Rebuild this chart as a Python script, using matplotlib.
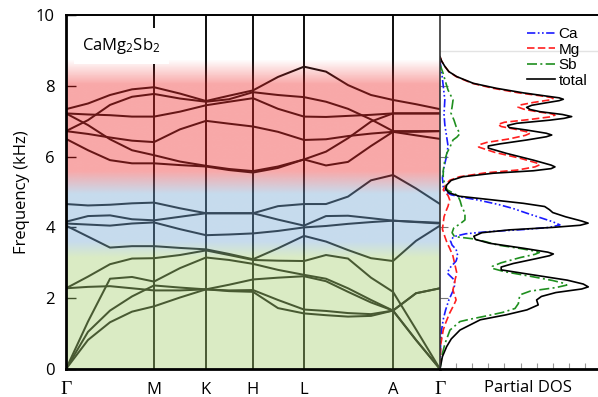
import numpy as np
import matplotlib.pyplot as plt

plt.rcParams['font.family'] = ['Open Sans', 'DejaVu Sans']
plt.rcParams['mathtext.default'] = 'regular'

# path coordinate of the sampled k points and the high-symmetry points
kpath = [0, 0.22, 0.44, 0.66, 0.88, 1.14, 1.40, 1.63, 1.87, 2.12, 2.38,
         2.60, 2.82, 3.05, 3.27, 3.50, 3.74]
sym_k = [0, 0.88, 1.40, 1.87, 2.38, 3.27, 3.74]
sym_labels = ['Γ', 'M', 'K', 'H', 'L', 'A', 'Γ']

# phonon branches (kHz)
red1 = [7.34, 7.50, 7.74, 7.90, 7.96, 7.78, 7.57, 7.72, 7.87, 8.25, 8.54, 8.40, 8.02, 7.74, 7.60, 7.48, 7.34]
red2 = [6.72, 7.03, 7.46, 7.69, 7.77, 7.64, 7.55, 7.62, 7.82, 7.74, 7.68, 7.55, 7.35, 7.05, 6.72, 6.72, 6.72]
red3 = [7.22, 7.19, 7.17, 7.13, 7.13, 7.27, 7.45, 7.55, 7.65, 7.35, 7.13, 7.12, 7.15, 7.18, 7.22, 7.22, 7.22]
red4 = [7.22, 6.89, 6.49, 6.18, 6.04, 5.86, 5.74, 5.65, 5.59, 5.72, 5.92, 6.14, 6.52, 6.99, 7.22, 7.22, 7.22]
red5 = [6.72, 6.64, 6.54, 6.45, 6.41, 6.77, 7.01, 6.93, 6.85, 6.70, 6.47, 6.49, 6.58, 6.65, 6.70, 6.70, 6.72]
red6 = [6.50, 6.18, 5.90, 5.81, 5.81, 5.76, 5.72, 5.62, 5.55, 5.68, 5.92, 5.75, 5.85, 6.30, 6.70, 6.60, 6.50]
blue1 = [4.66, 4.62, 4.64, 4.68, 4.70, 4.54, 4.40, 4.40, 4.40, 4.60, 4.66, 4.66, 4.87, 5.33, 5.48, 5.10, 4.66]
blue2 = [4.16, 4.32, 4.34, 4.23, 4.20, 4.30, 4.40, 4.40, 4.40, 4.22, 4.05, 4.32, 4.33, 4.26, 4.19, 4.16, 4.13]
blue3 = [4.11, 4.08, 4.05, 4.11, 4.14, 3.95, 3.78, 3.80, 3.83, 3.90, 4.00, 4.04, 4.10, 4.15, 4.19, 4.15, 4.11]
blue4 = [4.05, 3.74, 3.43, 3.47, 3.47, 3.42, 3.38, 3.25, 3.10, 3.41, 3.76, 3.60, 3.36, 3.13, 3.05, 3.62, 4.05]
green1 = [2.28, 2.61, 2.96, 3.12, 3.13, 3.22, 3.35, 3.22, 3.08, 3.06, 3.05, 3.22, 3.12, 2.58, 2.18, 1.12, 0.0]
green2 = [2.28, 2.32, 2.34, 2.28, 2.22, 2.22, 2.25, 2.22, 2.23, 1.95, 1.68, 1.64, 1.58, 1.55, 1.65, 0.82, 0.0]
acou1 = [0.0, 1.34, 2.55, 2.60, 2.47, 2.85, 3.15, 3.08, 2.97, 2.80, 2.66, 2.55, 2.28, 1.95, 1.65, 2.14, 2.28]
acou2 = [0.0, 1.05, 1.65, 2.05, 2.36, 2.30, 2.25, 2.38, 2.53, 2.58, 2.62, 2.48, 2.18, 1.88, 1.65, 2.14, 2.28]
acou3 = [0.0, 0.82, 1.32, 1.62, 1.77, 2.02, 2.25, 2.20, 2.18, 1.72, 1.57, 1.52, 1.48, 1.50, 1.65, 0.82, 0.0]

branches = [red1, red2, red3, red4, red5, red6, blue1, blue2, blue3, blue4,
            green1, green2, acou1, acou2, acou3]

# partial DOS (arb. units) against frequency
total_freq = [8.82, 8.70, 8.55, 8.40, 8.26, 8.07, 7.93, 7.80, 7.71, 7.66, 7.62, 7.58, 7.52, 7.45, 7.39,
              7.33, 7.27, 7.19, 7.13, 7.08, 7.03, 6.94, 6.88, 6.82, 6.75, 6.66, 6.61, 6.56, 6.47, 6.36,
              6.30, 6.24, 6.09, 5.90, 5.76, 5.71, 5.66, 5.60, 5.53, 5.43, 5.33, 5.20, 5.08, 4.98, 4.88,
              4.78, 4.68, 4.59, 4.50, 4.42, 4.30, 4.18, 4.12, 4.06, 4.00, 3.93, 3.85, 3.75, 3.66, 3.55,
              3.41, 3.30, 3.25, 3.20, 3.12, 2.98, 2.88, 2.80, 2.70, 2.51, 2.40, 2.32, 2.26, 2.16, 2.05,
              1.95, 1.81, 1.67, 1.53, 1.39, 1.10, 0.85, 0.63, 0.35, 0.0]
total_dos = [0.0, 0.10, 0.30, 0.55, 1.04, 2.07, 3.5, 5.18, 6.6, 7.4, 7.66, 7.4, 6.6, 5.7, 5.38,
             5.6, 6.2, 7.6, 8.18, 7.7, 6.83, 4.76, 4.2, 4.3, 5.38, 6.6, 6.94, 6.6, 5.4, 3.73,
             3.0, 3.0, 4.14, 5.8, 6.9, 7.14, 6.9, 5.8, 3.3, 1.4, 0.7, 0.42, 0.35, 0.55, 1.2,
             3.2, 5.18, 6.5, 6.8, 7.0, 7.8, 8.8, 9.2, 8.7, 7.0, 4.3, 2.6, 2.1, 2.2, 3.1,
             5.2, 6.7, 7.04, 6.8, 6.0, 4.55, 3.8, 3.8, 5.2, 7.9, 8.9, 9.21, 8.8, 7.2, 6.3,
             6.0, 6.1, 5.4, 4.1, 2.5, 1.24, 0.7, 0.41, 0.15, 0.0]

mg_freq = [8.82, 8.70, 8.55, 8.40, 8.26, 8.07, 7.93, 7.80, 7.72, 7.67, 7.64, 7.60, 7.53, 7.46, 7.40,
           7.34, 7.27, 7.21, 7.17, 7.12, 7.05, 6.97, 6.91, 6.85, 6.77, 6.70, 6.66, 6.60, 6.50, 6.40,
           6.33, 6.27, 6.12, 5.95, 5.82, 5.77, 5.71, 5.62, 5.54, 5.43, 5.33, 5.20, 5.06, 4.90, 4.78,
           4.60, 4.49, 4.30, 4.12, 3.95, 3.74, 3.55, 3.41, 3.20, 3.00, 2.80, 2.70, 2.55, 2.42, 2.23,
           2.10, 1.95, 1.80, 1.58, 1.30, 1.10, 0.70, 0.0]
mg_dos = [0.0, 0.10, 0.30, 0.55, 1.0, 2.0, 3.3, 4.9, 6.2, 6.9, 7.02, 6.8, 5.8, 5.0, 4.84,
          5.2, 6.0, 6.9, 7.14, 6.8, 5.6, 4.0, 3.6, 3.8, 4.7, 5.4, 5.6, 5.3, 4.3, 2.9,
          2.4, 2.4, 3.4, 5.0, 6.0, 6.2, 5.9, 4.8, 2.8, 1.2, 0.6, 0.35, 0.2, 0.5, 0.6,
          0.5, 0.4, 0.25, 0.2, 0.15, 0.3, 0.45, 0.6, 0.8, 0.9, 1.0, 1.05, 0.95, 0.9, 0.8,
          0.9, 1.0, 0.85, 0.6, 0.35, 0.2, 0.05, 0.0]

ca_freq = [8.70, 8.40, 8.00, 7.60, 7.20, 6.90, 6.60, 6.30, 6.00, 5.70, 5.40, 5.15, 5.00, 4.92, 4.85,
           4.77, 4.65, 4.54, 4.40, 4.25, 4.16, 4.07, 4.00, 3.94, 3.88, 3.82, 3.74, 3.62, 3.50, 3.38,
           3.20, 3.05, 2.85, 2.71, 2.51, 2.35, 2.20, 1.95, 1.67, 1.40, 1.10, 0.60, 0.0]
ca_dos = [0.0, 0.1, 0.2, 0.3, 0.25, 0.3, 0.4, 0.5, 0.4, 0.25, 0.15, 0.2, 0.35, 0.7, 1.4,
          2.4, 3.6, 4.5, 5.4, 6.4, 7.0, 7.45, 6.8, 5.2, 3.0, 1.6, 0.85, 0.65, 0.75, 1.0,
          1.1, 1.0, 0.6, 0.45, 0.9, 0.9, 0.8, 0.55, 0.35, 0.2, 0.1, 0.03, 0.0]

sb_freq = [8.60, 8.36, 8.10, 7.88, 7.60, 7.40, 7.23, 7.03, 6.85, 6.72, 6.65, 6.55, 6.47, 6.25, 6.10,
           5.90, 5.60, 5.40, 5.20, 5.06, 4.90, 4.75, 4.59, 4.40, 4.21, 4.12, 3.98, 3.85, 3.74, 3.68,
           3.60, 3.50, 3.41, 3.33, 3.29, 3.24, 3.15, 3.00, 2.90, 2.85, 2.75, 2.62, 2.50, 2.42, 2.37,
           2.30, 2.20, 2.10, 1.98, 1.85, 1.71, 1.60, 1.52, 1.40, 1.34, 1.10, 0.72, 0.35, 0.0]
sb_dos = [0.0, 0.19, 0.35, 0.5, 0.81, 0.75, 0.68, 0.87, 1.0, 1.15, 1.24, 1.05, 0.81, 0.6, 0.43,
          0.3, 0.2, 0.2, 0.3, 0.45, 1.1, 1.25, 1.35, 1.55, 1.55, 1.3, 0.85, 0.75, 0.9, 2.0,
          2.8, 3.6, 4.9, 5.9, 6.17, 5.9, 5.0, 3.8, 3.25, 3.2, 4.0, 5.6, 7.0, 7.7, 7.87,
          7.2, 5.6, 5.0, 4.9, 4.87, 4.66, 3.9, 3.1, 1.8, 1.24, 0.62, 0.31, 0.1, 0.0]

fig = plt.figure(figsize=(5.98, 3.97), dpi=100)
ax = fig.add_axes([66 / 598, 28 / 397, 374 / 598, 354 / 397])
dos_ax = fig.add_axes([440 / 598, 28 / 397, 158 / 598, 354 / 397])

# band structure
for branch in branches:
    ax.plot(kpath, branch, color='#0d0d0d', lw=1.45, zorder=2)
for k in sym_k[1:-1]:
    ax.axvline(k, color='#0d0d0d', lw=1.4, zorder=2)

# translucent colour bands laid over the curves
stop_f = [0, 3.15, 3.6, 4.95, 5.6, 8.05, 8.75, 10]
stop_rgb = [(0.64, 0.81, 0.425), (0.64, 0.81, 0.425), (0.45, 0.65, 0.825), (0.45, 0.65, 0.825),
            (0.94, 0.15, 0.15), (0.94, 0.15, 0.15), (0.94, 0.15, 0.15), (0.94, 0.15, 0.15)]
stop_alpha = [0.4, 0.4, 0.4, 0.4, 0.4, 0.4, 0.0, 0.0]
fg = np.linspace(0, 10, 600)
rgba = np.zeros((600, 1, 4))
for c in range(3):
    rgba[:, 0, c] = np.interp(fg, stop_f, [s[c] for s in stop_rgb])
rgba[:, 0, 3] = np.interp(fg, stop_f, stop_alpha)
ax.imshow(rgba, origin='lower', extent=[0, kpath[-1], 0, 10], aspect='auto',
          interpolation='bilinear', zorder=3)

ax.set_xlim(0, kpath[-1])
ax.set_ylim(0, 10)
ax.set_xticks(sym_k)
ax.set_xticklabels(sym_labels)
ax.set_yticks([0, 2, 4, 6, 8, 10])
ax.tick_params(axis='y', direction='in', length=7, width=1.0, labelsize=12, pad=8)
ax.tick_params(axis='x', length=0, labelsize=12, pad=9)
for lbl in ax.get_xticklabels():
    if lbl.get_text() == 'Γ':
        lbl.set_fontfamily('Liberation Serif')
        lbl.set_fontsize(14)
ax.set_ylabel('Frequency (kHz)', fontsize=12, labelpad=4)
for side, sp in ax.spines.items():
    sp.set_zorder(5)
    sp.set_color('black')
ax.spines['left'].set_linewidth(2.0)
ax.spines['bottom'].set_linewidth(2.0)
ax.spines['top'].set_linewidth(1.4)
ax.spines['right'].set_visible(False)

ax.text(0.16, 9.12, 'CaMg$_2$Sb$_2$', fontsize=12, ha='left', va='center', zorder=4,
        bbox=dict(boxstyle='square,pad=0.5', fc='white', ec='none'))

# partial DOS
dos_ax.axhline(8.97, color='#e3e3e3', lw=1.0, zorder=0)
l_ca, = dos_ax.plot(ca_dos, ca_freq, color='#1a1aff', lw=1.2, dashes=(5, 1.5, 1, 1.5, 1, 1.5))
l_mg, = dos_ax.plot(mg_dos, mg_freq, color='#ff1f1f', lw=1.2, dashes=(4.5, 2))
l_sb, = dos_ax.plot(sb_dos, sb_freq, color='#1f8f1f', lw=1.2, dashes=(6, 2, 1.2, 2))
l_tot, = dos_ax.plot(total_dos, total_freq, color='black', lw=1.2)

dos_ax.set_xlim(0, 158 / 16.1)
dos_ax.set_ylim(0, 10)
dos_ax.set_xticks(range(1, 10))
dos_ax.set_yticks([2, 4, 6, 8])
dos_ax.tick_params(axis='x', direction='in', length=4, width=0.8, color='#999999',
                   labelbottom=False)
dos_ax.tick_params(axis='y', direction='in', length=6, width=0.8, color='#777777',
                   labelleft=False)
dos_ax.spines['right'].set_visible(False)
dos_ax.spines['top'].set_linewidth(1.4)
dos_ax.spines['bottom'].set_linewidth(2.0)
dos_ax.spines['left'].set_color('#333333')
dos_ax.spines['left'].set_linewidth(1.2)

dos_ax.legend([l_ca, l_mg, l_sb, l_tot], ['Ca', 'Mg', 'Sb', 'total'], loc='upper left',
              bbox_to_anchor=(527 / 598, 1 - 27 / 397), bbox_transform=fig.transFigure,
              frameon=False, prop={'family': 'Liberation Sans', 'size': 11},
              handlelength=1.8, handletextpad=0.25, labelspacing=0.1,
              borderpad=0, borderaxespad=0)

fig.text(528 / 598, 9 / 397, 'Partial DOS', ha='center', va='center', fontsize=12)

fig.savefig('out.png', dpi=100)
